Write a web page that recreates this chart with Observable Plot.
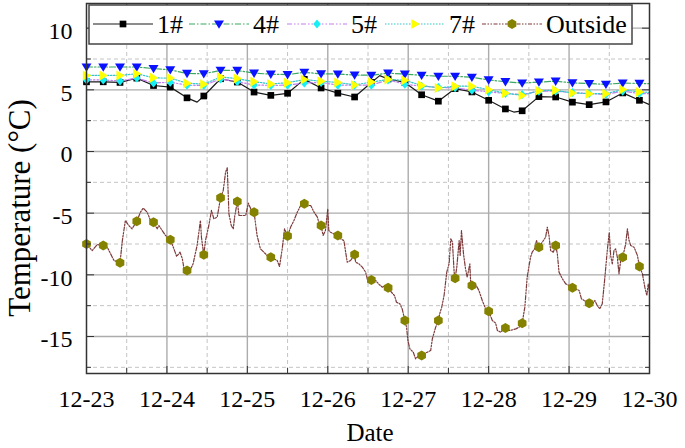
<!DOCTYPE html>
<html>
<head>
<meta charset="utf-8">
<script src="https://cdn.jsdelivr.net/npm/d3@7"></script>
<script src="https://cdn.jsdelivr.net/npm/@observablehq/plot@0.6"></script>
<style>
  html, body { margin: 0; padding: 0; background: #fff; }
</style>
</head>
<body>
<div id="chart"></div>
<script>
// ---------- DATA ----------
// x = hours since 12-23 00:00
const dateLabels = ["12-23", "12-24", "12-25", "12-26", "12-27", "12-28", "12-29", "12-30"];
const dayHours = [0, 24, 48, 72, 96, 120, 144, 168];
const halfDayHours = [12, 36, 60, 84, 108, 132, 156];
const yTicks = [-15, -10, -5, 0, 5, 10];
const yHalfTicks = [-17.5, -12.5, -7.5, -2.5, 2.5, 7.5];
const seriesNames = ["1#", "4#", "5#", "7#", "Outside"];
const xTitle = "Date";
const yTitle = "Temperature (°C)";

const indoorHours = [0, 5, 10, 15, 20, 25, 30, 35, 40, 45, 50, 55, 60, 65, 70, 75, 80, 85, 90, 95,
  100, 105, 110, 115, 120, 125, 130, 135, 140, 145, 150, 155, 160, 165, 168];
const temp4 = [6.85, 6.85, 6.85, 6.85, 6.72, 6.62, 6.33, 6.30, 6.58, 6.57, 6.35, 6.27, 6.23, 6.42, 6.30, 6.28, 6.20, 6.18, 6.35, 6.27,
  6.18, 6.10, 6.10, 6.02, 5.80, 5.66, 5.55, 5.63, 5.70, 5.57, 5.50, 5.45, 5.55, 5.52, 5.50];
const temp5 = [5.80, 5.80, 5.72, 5.95, 5.55, 5.62, 5.38, 5.35, 5.88, 5.65, 5.40, 5.36, 5.38, 5.55, 5.60, 5.38, 5.38, 5.38, 5.80, 5.45,
  5.30, 5.20, 5.16, 4.97, 4.84, 4.70, 4.62, 4.89, 4.89, 4.78, 4.70, 4.62, 4.89, 4.70, 4.70];
const temp7 = [6.17, 6.17, 6.17, 6.31, 5.97, 5.95, 5.54, 5.46, 6.04, 5.91, 5.66, 5.48, 5.58, 5.83, 5.70, 5.60, 5.40, 5.63, 5.84, 5.77,
  5.36, 5.15, 5.30, 5.30, 5.00, 4.73, 4.55, 4.93, 4.96, 4.75, 4.69, 4.69, 5.02, 4.82, 4.80];

const hours1 = [0, 5, 10, 15, 20, 25, 30, 33, 35, 40, 45, 50, 55, 60, 65, 70, 75, 80, 85, 87.5, 90, 95,
  100, 105, 110, 115, 120, 125, 127.5, 130, 135, 140, 145, 150, 155, 160, 165, 168];
const temp1 = [5.65, 5.65, 5.60, 5.95, 5.35, 5.22, 4.35, 4.00, 4.50, 5.90, 5.63, 4.82, 4.55, 4.72, 5.85, 5.15, 4.73, 4.42, 5.60, 6.15, 5.88, 5.60,
  4.60, 4.08, 5.10, 4.83, 4.15, 3.45, 3.20, 3.30, 4.45, 4.42, 4.00, 3.80, 4.02, 4.75, 4.15, 3.80];

const outsideHours = [0, 1.7, 3.2, 5, 6.2, 8.2, 10, 10.7, 11.6, 12.6, 13.6, 15, 16.1, 16.9, 18.1, 19.1, 20, 21.1, 21.6, 22.6, 23.6,
  25, 25.9, 26.9, 27.9, 28.6, 29.1, 30, 30.8, 31.8, 33, 34, 34.3, 35, 35.5, 36.5, 37.3, 38, 39, 40, 40.8, 41.5, 42, 42.5,
  43.2, 43.8, 44.2, 45, 45.5, 46.5, 47.5, 48.3, 49, 50, 50.9, 51.9, 52.9, 53.9, 55, 55.9, 56.9, 57.6, 58.4, 59.1, 60,
  60.9, 61.9, 62.9, 63.9, 65, 65.9, 66.9, 67.9, 68.9, 69.4, 70, 70.6, 71.3, 72, 72.3, 72.8, 73.8, 75, 75.8, 76.8, 77.8,
  78.8, 80, 80.3, 81.3, 82.3, 83.3, 84, 85, 86.3, 87.3, 88.3, 89.3, 90, 91, 91.9, 92.5, 93.5, 94.2, 95, 95.5, 95.9, 96.5,
  97.5, 98.2, 99.2, 100, 100.7, 101.7, 102.7, 103.2, 104.2, 105, 105.4, 106, 106.7, 107.5, 108.2, 108.7, 109.2, 109.7,
  110, 110.5, 111.2, 111.5, 111.9, 112.5, 113.1, 113.6, 114.4, 114.6, 115, 116.1, 117.1, 118.1, 119.1, 120, 121.1, 122.1,
  122.6, 123.6, 124.6, 125, 126.1, 127.1, 128.1, 129.1, 130, 130.8, 131.5, 132, 132.5, 133, 133.7, 134.3, 135, 136, 137,
  137.5, 138, 138.5, 139.3, 140, 140.5, 141, 142, 143, 144, 145, 146, 147, 147.7, 148.5, 149.5, 150, 151, 151.7, 152.4,
  153.2, 153.9, 154.6, 155.4, 156, 156.4, 156.9, 157.4, 157.9, 158.4, 158.9, 159.4, 160, 160.9, 161.4, 161.9, 162.4,
  163.4, 164.4, 165, 165.9, 166.6, 167.2, 167.6, 168];
const outsideTemp = [-7.5, -8.03, -7.54, -7.62, -7.76, -8.84, -9.03, -7.22, -5.59, -6.0, -6.27, -5.65, -4.92, -4.59, -4.92, -5.59, -5.73, -6.27, -6.0, -6.41, -6.81,
  -7.16, -7.76, -8.51, -8.16, -8.7, -9.51, -9.65, -9.7, -9.11, -7.62, -5.59, -6.95, -8.38, -7.22, -6.0, -4.78, -5.46, -5.32, -3.76, -3.16, -1.68, -1.32, -5.05,
  -6.0, -6.27, -5.32, -4.05, -5.19, -5.19, -5.19, -4.19, -4.65, -4.92, -6.81, -7.89, -8.16, -8.43, -8.57, -8.7, -8.84, -9.32, -7.89, -6.27, -6.86,
  -6.14, -5.59, -4.92, -4.38, -4.24, -4.38, -4.38, -4.92, -5.32, -5.86, -6.0, -6.81, -6.41, -4.65, -6.41, -6.54, -6.68, -6.81, -7.08, -7.22, -8.97,
  -8.84, -8.35, -8.97, -9.11, -9.38, -9.78, -10.59, -10.41, -10.46, -10.78, -11.0, -10.86, -11.05, -11.41, -11.68, -12.22, -12.35, -12.76, -13.7, -14.24, -15.32, -16.0,
  -16.27, -16.81, -16.54, -16.54, -16.41, -16.27, -16.14, -15.19, -14.24, -13.7, -13.16, -12.62, -11.68, -9.78, -9.11, -7.08, -7.35, -9.78,
  -10.27, -9.38, -7.22, -8.43, -6.41, -8.3, -9.51, -10.19, -9.11, -10.46, -10.86, -10.78, -11.27, -12.08, -12.76, -12.95, -13.7, -13.92,
  -14.51, -14.65, -14.38, -14.32, -14.51, -14.46, -14.38, -14.24, -13.92, -12.62, -10.19, -9.38, -8.57, -8.16, -7.89, -7.22, -7.76, -7.35, -6.95,
  -6.14, -6.81, -8.03, -8.16, -7.62, -8.3, -9.78, -10.32, -10.73, -10.86, -11.05, -11.14, -11.27, -11.95, -12.08, -12.35, -12.3, -12.35, -12.08, -12.49,
  -12.76, -12.35, -10.46, -8.03, -6.54, -8.43, -9.11, -8.03, -7.89, -8.57, -9.92, -8.84, -8.57, -7.49, -6.27, -7.22, -7.62,
  -7.76, -8.43, -9.32, -9.92, -11.0, -11.68, -10.73, -11.4];

// ---------- BUILD TABLES ----------
const toRows = (hs, vs) => hs.map((h, i) => ({h, v: vs[i]}));
const isMarker = d => d.h % 5 === 0 && d.h <= 165;

// custom symbols (pixel radius r derived from Plot's area)
const sym = fn => ({draw(c, size) { fn(c, Math.sqrt(size / Math.PI)); }});
const symSquare = sym((c, r) => { const a = r * 0.88; c.rect(-a, -a, 2 * a, 2 * a); });
const symDown = sym((c, r) => { c.moveTo(-r, -0.72 * r); c.lineTo(r, -0.72 * r); c.lineTo(0, 0.95 * r); c.closePath(); });
const symRight = sym((c, r) => { c.moveTo(-0.72 * r, -r); c.lineTo(0.95 * r, 0); c.lineTo(-0.72 * r, r); c.closePath(); });
const symDiamond = sym((c, r) => { c.moveTo(0, -r); c.lineTo(0.85 * r, 0); c.lineTo(0, r); c.lineTo(-0.85 * r, 0); c.closePath(); });
const symHex = sym((c, r) => { for (let i = 0; i < 6; i++) { const a = Math.PI / 3 * i + Math.PI / 6; const x = r * Math.cos(a), y = r * Math.sin(a); if (i) c.lineTo(x, y); else c.moveTo(x, y); } c.closePath(); });

const series = [
  {name: seriesNames[0], rows: toRows(hours1, temp1), line: "#1a1a1a", dash: null, fill: "#000000", symbol: symSquare, r: 3.8},
  {name: seriesNames[1], rows: toRows(indoorHours, temp4), line: "#3aa860", dash: "6,2,1.5,2", fill: "#0a12ff", symbol: symDown, r: 5.0},
  {name: seriesNames[2], rows: toRows(indoorHours, temp5), line: "#c27ef0", dash: "5,2,1.5,2,1.5,2", fill: "#16f0f5", symbol: symDiamond, r: 4.5},
  {name: seriesNames[3], rows: toRows(indoorHours, temp7), line: "#33c6cc", dash: "1.5,1.5", fill: "#ffff00", symbol: symRight, r: 5.0},
  {name: seriesNames[4], rows: toRows(outsideHours, outsideTemp), line: "#7e3b3b", dash: "4,1.5,1.5,1.5,1.5,1.5", fill: "#858200", symbol: symHex, r: 5.0}
];

const font = "'Liberation Serif', 'Times New Roman', serif";
const tickColor = "#333";
const fmtNum = d => String(d);   // plain hyphen, as in the reference

const marks = [
  // grid
  Plot.ruleX(halfDayHours, {stroke: "#c4c4c4", strokeDasharray: "4,3"}),
  Plot.ruleY(yHalfTicks, {stroke: "#c4c4c4", strokeDasharray: "4,3"}),
  Plot.ruleX(dayHours.slice(1, -1), {stroke: "#acacac", strokeWidth: 1.4}),
  Plot.ruleY(yTicks, {stroke: "#acacac", strokeWidth: 1.4}),
];
for (const s of series) {
  marks.push(Plot.line(s.rows, {x: "h", y: "v", stroke: s.line, strokeWidth: 1.2, strokeDasharray: s.dash}));
  marks.push(Plot.dot(s.rows.filter(isMarker), {x: "h", y: "v", symbol: s.symbol, r: s.r, fill: s.fill, stroke: "none"}));
}
marks.push(
  Plot.frame({stroke: tickColor, strokeWidth: 1.5}),
  // tick labels
  Plot.axisX({ticks: dayHours, tickFormat: d => dateLabels[Math.round(d / 24)], tickSize: 0, tickPadding: 16, fontSize: 24, label: null}),
  Plot.axisY({ticks: yTicks, tickFormat: fmtNum, tickSize: 0, tickPadding: 14, fontSize: 24, dy: 3, label: null}),
  // inward ticks on all four sides
  Plot.axisX({anchor: "bottom", ticks: dayHours, tickSize: -7, tickFormat: () => "", label: null, stroke: tickColor}),
  Plot.axisX({anchor: "bottom", ticks: halfDayHours, tickSize: -5, tickFormat: () => "", label: null, stroke: tickColor}),
  Plot.axisX({anchor: "top", ticks: dayHours, tickSize: -7, tickFormat: () => "", label: null, stroke: tickColor}),
  Plot.axisX({anchor: "top", ticks: halfDayHours, tickSize: -5, tickFormat: () => "", label: null, stroke: tickColor}),
  Plot.axisY({anchor: "left", ticks: yTicks, tickSize: -8, tickFormat: () => "", label: null, stroke: tickColor}),
  Plot.axisY({anchor: "left", ticks: yHalfTicks, tickSize: -5, tickFormat: () => "", label: null, stroke: tickColor}),
  Plot.axisY({anchor: "right", ticks: yTicks, tickSize: -8, tickFormat: () => "", label: null, stroke: tickColor}),
  Plot.axisY({anchor: "right", ticks: yHalfTicks, tickSize: -5, tickFormat: () => "", label: null, stroke: tickColor})
);

const chart = Plot.plot({
  width: 685,
  height: 448,
  marginLeft: 86,
  marginRight: 36,
  marginTop: 3,
  marginBottom: 75,
  style: {fontFamily: font, fontSize: "24px", background: "#fff", color: "#000", overflow: "visible"},
  x: {domain: [0, 168], axis: null},
  y: {domain: [-18, 12], axis: null},
  marks
});

const svg = d3.select(chart);

// ---------- AXIS TITLES ----------
svg.append("text").attr("transform", "translate(19,208) rotate(-90)")
  .attr("text-anchor", "middle").attr("dy", "0.35em")
  .attr("font-family", font).attr("font-size", 31).attr("fill", "#000").text(yTitle);
svg.append("text").attr("x", 370).attr("y", 441)
  .attr("text-anchor", "middle")
  .attr("font-family", font).attr("font-size", 25).attr("fill", "#000").text(xTitle);

// ---------- LEGEND ----------
const lg = svg.append("g").attr("font-family", font).attr("font-size", 26).attr("fill", "#000").attr("text-anchor", "start");
lg.append("rect").attr("x", 89).attr("y", 5).attr("width", 543).attr("height", 39)
  .attr("fill", "#fff").attr("stroke", "#444").attr("stroke-width", 1.5);
const entryX = [93, 189, 287, 385, 482];
series.forEach((s, i) => {
  const x0 = entryX[i], ly = 24;
  lg.append("line").attr("x1", x0).attr("x2", x0 + 60).attr("y1", ly).attr("y2", ly)
    .attr("stroke", s.line).attr("stroke-width", 1.2).attr("stroke-dasharray", s.dash);
  lg.append("path").attr("transform", `translate(${x0 + 30},${ly})`)
    .attr("d", d3.symbol(s.symbol, Math.PI * s.r * s.r)()).attr("fill", s.fill);
  lg.append("text").attr("x", x0 + 64).attr("y", ly + 9).attr("text-anchor", "start").text(s.name);
});

document.getElementById("chart").appendChild(chart);
</script>
</body>
</html>
